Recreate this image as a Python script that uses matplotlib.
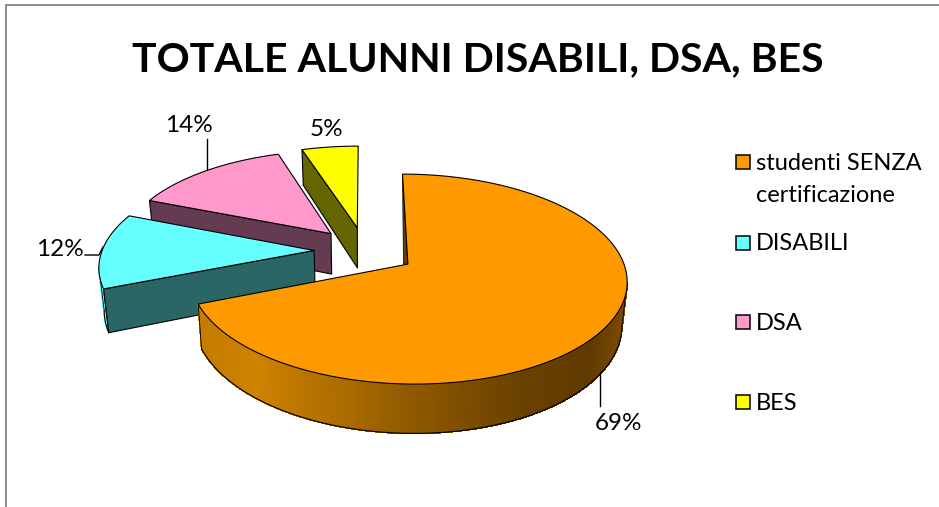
import numpy as np
import matplotlib
matplotlib.use("Agg")
import matplotlib.pyplot as plt
from matplotlib.patches import Rectangle

# Chart data
title = "TOTALE ALUNNI DISABILI, DSA, BES"
categories = ["studenti SENZA\ncertificazione", "DISABILI", "DSA", "BES"]
shares = [69, 12, 14, 5]
top_colors = ["#FF9900", "#66FFFF", "#FF99CC", "#FFFF00"]
cut_colors = ["#663D00", "#2B6666", "#653B52", "#666600"]

# Perspective view of the exploded disc, in figure pixels
CX, CY = 365.0, 250.5
RX, RY = 212.0, 99.0
PERSP = 0.14
EXPLODE = 0.24
THICK = 41.5
BASE_SHRINK = 0.98

plt.rcParams["font.family"] = ["Lato", "DejaVu Sans"]

fig = plt.figure(figsize=(9.39, 5.07), dpi=100, facecolor="white")
ax = fig.add_axes([0, 0, 1, 1])
ax.set_xlim(0, 939)
ax.set_ylim(507, 0)
ax.axis("off")


def project(u, v, lower=False):
    """Map disc coordinates to the screen; lower=True gives the underside."""
    u, v = np.asarray(u, float), np.asarray(v, float)
    s = 1.0 / (1.0 + PERSP * v)
    x = CX + RX * u * s
    y = CY - RY * v * s
    if lower:
        x = CX + (x - CX) * BASE_SHRINK
        y = y + THICK * s
    return x, y


def slice_point(th, offset, r=1.0, lower=False):
    th = np.radians(th)
    return project(offset[0] + r * np.sin(th), offset[1] + r * np.cos(th), lower)


def face(x, y, color, z, lw=0.8):
    ax.fill(x, y, facecolor=color, edgecolor="black", linewidth=lw, zorder=z,
            joinstyle="round")


# Angular extent of every slice, clockwise from twelve o'clock
edges = np.cumsum([0] + shares) * 360.0 / sum(shares)
starts, ends = edges[:-1], edges[1:]
mids = (starts + ends) / 2.0
offsets = [(EXPLODE * np.sin(np.radians(m)), EXPLODE * np.cos(np.radians(m))) for m in mids]

# Shading along the orange rim, keyed on screen x
rim_x = [200, 255, 400, 520, 590, 630]
rim_r = [0xC4, 0xCE, 0x93, 0x6A, 0x60, 0x80]
rim_g = [0x7C, 0x82, 0x5C, 0x41, 0x3A, 0x4E]


def rim(i, th0, th1, z, shaded):
    ths = np.linspace(th0, th1, 240)
    xt, yt = slice_point(ths, offsets[i])
    xb, yb = slice_point(ths, offsets[i], lower=True)
    for j in range(len(ths) - 1):
        if shaded:
            xm = (xt[j] + xt[j + 1]) / 2
            c = (np.interp(xm, rim_x, rim_r) / 255, np.interp(xm, rim_x, rim_g) / 255, 0)
        else:
            c = top_colors[i]
        ax.fill([xt[j], xt[j + 1], xb[j + 1], xb[j]], [yt[j], yt[j + 1], yb[j + 1], yb[j]],
                facecolor=c, edgecolor=c, linewidth=0.6, zorder=z, antialiased=False)
    ax.plot(xb, yb, color="black", lw=0.8, zorder=z + 0.1)
    ax.plot([xt[-1], xb[-1]], [yt[-1], yb[-1]], color="black", lw=0.6, zorder=z + 0.1)
    ax.plot([xt[0], xb[0]], [yt[0], yb[0]], color="black", lw=0.6, zorder=z + 0.1)


# Slices go back to front: BES, DSA, DISABILI, then the large one
for i, z in zip([3, 2, 1, 0], [10, 20, 30, 40]):
    ths = np.linspace(starts[i], ends[i], 160)
    ax_x, ax_y = slice_point(ths, offsets[i])
    ox, oy = project(*offsets[i])
    ox_b, oy_b = project(*offsets[i], lower=True)

    if i == 0:
        # Rim runs from the right silhouette round to the left cut
        silhouette = ths[np.argmax(ax_x)]
        rim(i, silhouette, ends[i], z, True)
        # Sliver of the inner face beside the first radius
        ex, ey = slice_point(starts[i], offsets[i])
        ax.fill([ex, ox, ox - 4.5], [ey, oy, oy], facecolor=cut_colors[i],
                edgecolor="black", linewidth=0.5, zorder=z + 2)
    else:
        if i == 1:
            silhouette = ths[np.argmin(ax_x)]
            rim(i, starts[i], silhouette, z, False)
        # Cut face along the leading radius
        ex, ey = slice_point(starts[i], offsets[i])
        ex_b, ey_b = slice_point(starts[i], offsets[i], lower=True)
        face([ox, ex, ex_b, ox_b], [oy, ey, ey_b, oy_b], cut_colors[i], z + 1)

    face(np.r_[ox, ax_x], np.r_[oy, ax_y], top_colors[i], z + 3)

# Percentage labels and their leader lines
label_pos = [(618, 424), (60, 250), (189, 125), (326, 129)]
for share, (lx, ly) in zip(shares, label_pos):
    ax.text(lx, ly, f"{share}%", fontsize=17.5, ha="center", va="center", color="black", zorder=60)
ax.plot([600, 600], [372, 406], color="black", lw=1.0, zorder=60)
ax.plot([207, 207], [139, 172], color="black", lw=1.0, zorder=5)
ax.plot([85, 99, 103], [255, 255, 247], color="black", lw=1.0, zorder=5)

# Legend
legend_y = [162, 243, 322, 402]
for name, color, ly in zip(categories, top_colors, legend_y):
    ax.add_patch(Rectangle((735.5, ly - 7), 14, 14, facecolor=color, edgecolor="black",
                           linewidth=1.1, zorder=60))
    ax.text(756, ly - 9.5, name, fontsize=17, ha="left", va="top", color="black",
            linespacing=1.66, zorder=60)

# Title
ax.text(478, 60, title, fontsize=29.5, fontweight="bold", ha="center", va="center",
        color="black", zorder=60)

# Chart-area border, visible along the top and left only
ax.plot([6, 6, 939], [507, 5, 5], color="#8C8C8C", lw=1.4, solid_joinstyle="miter", zorder=1)

fig.savefig("out.png", dpi=100)
